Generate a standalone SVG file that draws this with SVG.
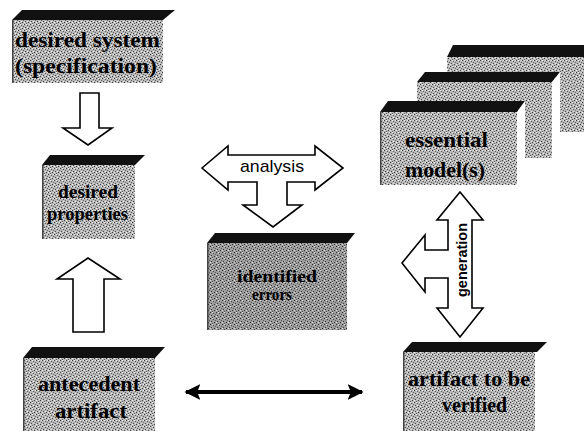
<svg xmlns="http://www.w3.org/2000/svg" width="584" height="431" viewBox="0 0 584 431">
<defs>
<pattern id="halftone" width="6" height="6" patternUnits="userSpaceOnUse">
<rect width="6" height="6" fill="#b8b8b8"/>
<rect x="0" y="0" width="1" height="1" fill="#333"/>
<rect x="3" y="1" width="1" height="1" fill="#555"/>
<rect x="1" y="3" width="1" height="1" fill="#444"/>
<rect x="4" y="4" width="1" height="1" fill="#3a3a3a"/>
<rect x="5" y="2" width="1" height="1" fill="#666"/>
<rect x="2" y="5" width="1" height="1" fill="#5a5a5a"/>
<rect x="2" y="0" width="1" height="1" fill="#f2f2f2"/>
<rect x="5" y="0" width="1" height="1" fill="#e6e6e6"/>
<rect x="0" y="4" width="1" height="1" fill="#f0f0f0"/>
<rect x="3" y="3" width="1" height="1" fill="#eaeaea"/>
</pattern>
<pattern id="halftoneDark" width="6" height="6" patternUnits="userSpaceOnUse">
<rect width="6" height="6" fill="#9e9e9e"/>
<rect x="0" y="0" width="1" height="1" fill="#222"/>
<rect x="3" y="1" width="1" height="1" fill="#444"/>
<rect x="1" y="3" width="1" height="1" fill="#333"/>
<rect x="4" y="4" width="1" height="1" fill="#2a2a2a"/>
<rect x="5" y="2" width="1" height="1" fill="#555"/>
<rect x="2" y="5" width="1" height="1" fill="#4a4a4a"/>
<rect x="2" y="0" width="1" height="1" fill="#e0e0e0"/>
<rect x="0" y="4" width="1" height="1" fill="#dadada"/>
</pattern>
<marker id="solidHead" viewBox="0 0 10 10" refX="9" refY="5" markerWidth="4" markerHeight="4" orient="auto-start-reverse" markerUnits="strokeWidth">
<path d="M0,0 L10,5 L0,10 L2,5 Z" fill="#000"/>
</marker>
</defs>
<style>
.top{fill:#111;}
.front{fill:url(#halftone);}
.frontDark{fill:url(#halftoneDark);}
.side{fill:#fff;}
.edge{stroke:#444;stroke-width:1.5;fill:none;}
.t{font-family:"Liberation Serif","Times New Roman",serif;fill:#000;font-weight:bold;}
.hollow{fill:#fff;stroke:#000;stroke-width:1.6;stroke-linejoin:miter;}
.lbl{font-family:"Liberation Sans",Arial,sans-serif;fill:#000;}
</style>
<rect width="584" height="431" fill="#fff"/>

<g id="connectors">
<polygon class="hollow" points="80,93 99,93 99,128 112,128 88,145 63,128 80,128"/>
<polygon class="hollow" points="73,332 104,332 104,279 120,279 88,258 57,279 73,279"/>
<polygon class="hollow" points="202,168 228,146 228,155 315,155 315,146 343,168 315,190 315,182 287,182 287,205 302,205 273,227 243,205 257,205 257,182 228,182 228,190"/>
<text class="lbl" x="272" y="172" font-size="17" text-anchor="middle" textLength="64" lengthAdjust="spacingAndGlyphs">analysis</text>
<polygon class="hollow" points="460,192 483,220 472,220 472,308 483,308 460,337 437,308 448,308 448,278 425,278 425,292 402,263 425,235 425,250 448,250 448,220 437,220"/>
<text class="lbl" transform="translate(467,260) rotate(-90)" font-size="14" font-weight="bold" text-anchor="middle" textLength="74" lengthAdjust="spacingAndGlyphs">generation</text>
<line x1="186" y1="392" x2="362" y2="392" stroke="#000" stroke-width="4" marker-start="url(#solidHead)" marker-end="url(#solidHead)"/>
</g>

<g id="desired-system">
<polygon class="top" points="12,20 22,10 175,10 163,20"/>
<rect class="front" x="12" y="20" width="151" height="63"/>
<line class="edge" x1="12.75" y1="20" x2="12.75" y2="83"/>
<text class="t" x="15" y="47" font-size="21" textLength="145" lengthAdjust="spacingAndGlyphs">desired system</text>
<text class="t" x="15" y="73" font-size="21" textLength="142" lengthAdjust="spacingAndGlyphs">(specification)</text>
</g>

<g id="desired-properties">
<polygon class="top" points="42,165 50,155 145,155 135,165"/>
<rect class="front" x="42" y="165" width="93" height="74"/>
<line class="edge" x1="42.75" y1="165" x2="42.75" y2="239"/>
<text class="t" x="58" y="198" font-size="19" textLength="60" lengthAdjust="spacingAndGlyphs">desired</text>
<text class="t" x="47" y="220" font-size="19" textLength="81" lengthAdjust="spacingAndGlyphs">properties</text>
</g>

<g id="antecedent-artifact">
<polygon class="top" points="23,358 32,347 165,347 155,358"/>
<rect class="front" x="23" y="358" width="132" height="73"/>
<line class="edge" x1="23.75" y1="358" x2="23.75" y2="431"/>
<text class="t" x="38" y="391" font-size="20" textLength="102" lengthAdjust="spacingAndGlyphs">antecedent</text>
<text class="t" x="55" y="418" font-size="20" textLength="72" lengthAdjust="spacingAndGlyphs">artifact</text>
</g>

<g id="identified-errors">
<polygon class="top" points="207,243 215,233 355,233 347,243"/>
<rect class="frontDark" x="207" y="243" width="140" height="87"/>
<line class="edge" x1="207.75" y1="243" x2="207.75" y2="330"/>
<text class="t" x="237" y="282" font-size="17" textLength="80" lengthAdjust="spacingAndGlyphs">identified</text>
<text class="t" x="252" y="300" font-size="16" textLength="40" lengthAdjust="spacingAndGlyphs">errors</text>
</g>

<g id="essential-models">
<g id="model-back">
<polygon class="top" points="447,57 453,45 594,45 590,57"/>
<rect class="front" x="447" y="57" width="143" height="75"/>
</g>
<g id="model-middle">
<polygon class="top" points="417,82 425,72 560,72 552,82"/>
<rect class="front" x="417" y="82" width="135" height="76"/>
<polygon class="side" points="552,82 560,72 560,148 552,158"/>
</g>
<g id="model-front">
<polygon class="top" points="380,112 388,101 525,101 517,112"/>
<rect class="front" x="380" y="112" width="137" height="73"/>
<polygon class="side" points="517,112 525,101 525,175 517,185"/>
<line class="edge" x1="380.75" y1="112" x2="380.75" y2="185"/>
<text class="t" x="405" y="147" font-size="22" textLength="83" lengthAdjust="spacingAndGlyphs">essential</text>
<text class="t" x="405" y="177" font-size="22" textLength="80" lengthAdjust="spacingAndGlyphs">model(s)</text>
</g>
</g>

<g id="artifact-to-be-verified">
<polygon class="top" points="403,352 412,342 547,342 537,352"/>
<rect class="front" x="403" y="352" width="132" height="79"/>
<line class="edge" x1="403.75" y1="352" x2="403.75" y2="431"/>
<text class="t" x="408" y="386" font-size="20" textLength="122" lengthAdjust="spacingAndGlyphs">artifact to be</text>
<text class="t" x="442" y="412" font-size="20" textLength="65" lengthAdjust="spacingAndGlyphs">verified</text>
</g>
</svg>
